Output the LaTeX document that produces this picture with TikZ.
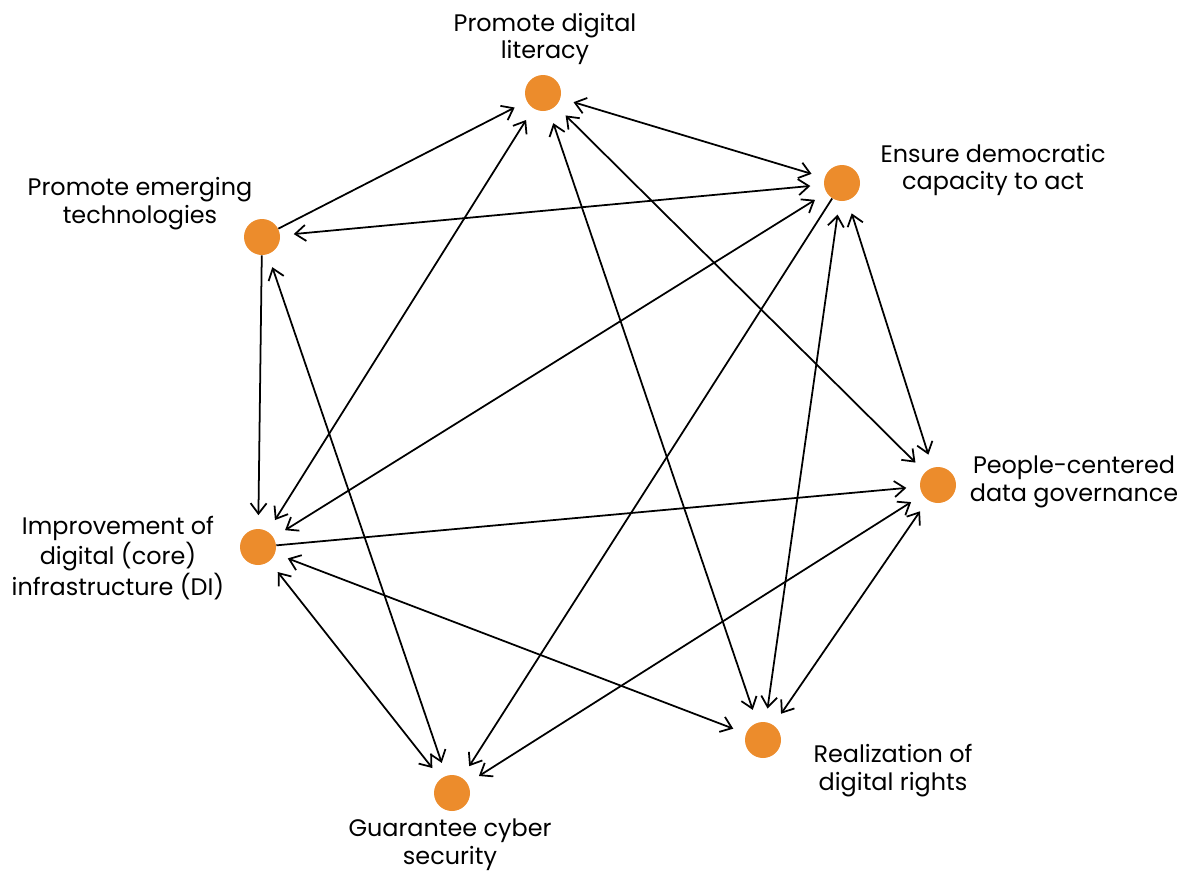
\documentclass[tikz,border=0pt]{standalone}
\usepackage{fontspec}
\setmainfont{Poppins}
\usetikzlibrary{arrows.meta}
\definecolor{dotorange}{RGB}{236,140,44}
\begin{document}
\begin{tikzpicture}[scale=0.4, >={Straight Barb[length=2.1mm,width=3.2mm]}]
            \tikzstyle{every node}+=[inner sep=0pt]
            \tikzstyle{dot}=[circle, fill=dotorange, minimum size=0.72cm]
            \tikzstyle{lbl}=[align=center, font=\fontsize{13.6}{15.9}\selectfont]
            \tikzstyle{bi}=[<->, line width=1pt, shorten <=0.27cm, shorten >=0.27cm]
            \tikzstyle{uni}=[->, line width=1pt, shorten >=0.27cm]
                \useasboundingbox (0,0) rectangle (58.9,-43.55);
                % the seven goals
                \node [dot] (lit) at (27.15,-4.65) {};
                \node [dot] (dem) at (42.1,-9.15) {};
                \node [dot] (emg) at (13.1,-11.85) {};
                \node [dot] (inf) at (12.9,-27.35) {};
                \node [dot] (ppl) at (46.9,-24.25) {};
                \node [dot] (rts) at (38.15,-37) {};
                \node [dot] (cyb) at (22.6,-39.65) {};
                \node [lbl] (litlbl) at (27.25,-1.95) {Promote digital\\literacy};
                \node [lbl] (demlbl) at (49.65,-8.5) {Ensure democratic\\capacity to act};
                \node [lbl] (emglbl) at (7.0,-10.2) {Promote emerging\\technologies};
                \node [lbl] (inflbl) at (5.9,-27.9) {Improvement of\\digital (core)\\infrastructure (DI)};
                \node [lbl] (ppllbl) at (53.7,-24.1) {People-centered\\data governance};
                \node [lbl] (rtslbl) at (44.65,-38.55) {Realization of\\digital rights};
                \node [lbl] (cyblbl) at (22.5,-42.25) {Guarantee cyber\\security};
                % one-way links
                \draw [uni] (emg) -- (lit);
                \draw [uni] (emg) -- (inf);
                \draw [uni] (dem) -- (cyb);
                \draw [uni] (inf) -- (ppl);
                % two-way links
                \draw [bi] (lit) -- (dem);
                \draw [bi] (dem) -- (emg);
                \draw [bi] (emg) -- (cyb);
                \draw [bi] (lit) -- (inf);
                \draw [bi] (dem) -- (inf);
                \draw [bi] (lit) -- (rts);
                \draw [bi] (lit) -- (ppl);
                \draw [bi] (dem) -- (rts);
                \draw [bi] (dem) -- (ppl);
                \draw [bi] (inf) -- (rts);
                \draw [bi] (inf) -- (cyb);
                \draw [bi] (ppl) -- (cyb);
                \draw [bi] (ppl) -- (rts);
            \end{tikzpicture}
\end{document}
